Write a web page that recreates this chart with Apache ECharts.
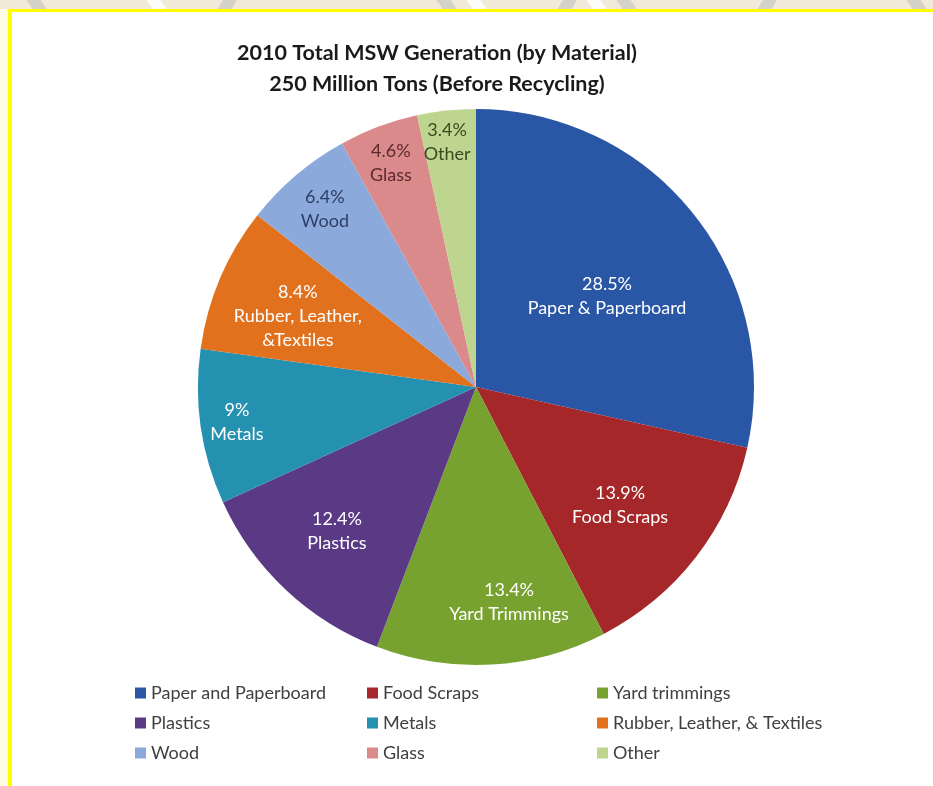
<!DOCTYPE html>
<html>
<head>
<meta charset="utf-8">
<script src="https://cdn.jsdelivr.net/npm/echarts@6/dist/echarts.min.js"></script>
<style>
  html, body { margin: 0; padding: 0; width: 933px; height: 786px; overflow: hidden; background: #fdfde6; }
  #strip { position: absolute; left: 0; top: 0; width: 933px; height: 9px; background: #f2ead8; overflow: hidden; }
  .mark { position: absolute; top: -4px; height: 18px; width: 14px; background: rgba(190,190,190,0.55); transform: skewX(35deg); }
  .mark.w { background: rgba(255,255,255,0.8); }
  #frame { position: absolute; left: 8px; top: 9px; right: 0; bottom: 0; border-top: 3px solid #ffff00; border-left: 4px solid #ffff00; background: #ffffff; }
  #chart { position: absolute; left: 0; top: 0; width: 933px; height: 786px; }
</style>
</head>
<body>
<div id="strip">
  <div class="mark" style="left:30px"></div>
  <div class="mark w" style="left:150px"></div>
  <div class="mark" style="left:220px;transform:skewX(-30deg)"></div>
  <div class="mark" style="left:440px"></div>
  <div class="mark w" style="left:470px"></div>
  <div class="mark" style="left:560px;transform:skewX(-30deg)"></div>
  <div class="mark w" style="left:590px"></div>
  <div class="mark" style="left:620px"></div>
  <div class="mark" style="left:760px;transform:skewX(-30deg)"></div>
  <div class="mark" style="left:910px"></div>
</div>
<div id="frame"></div>
<div id="chart"></div>
<script>
// Material categories, clockwise from 12 o'clock
const categories = [
  'Paper and Paperboard', 'Food Scraps', 'Yard trimmings',
  'Plastics', 'Metals', 'Rubber, Leather, & Textiles',
  'Wood', 'Glass', 'Other'
];
// Share of total generation, percent
const shares = [28.5, 13.9, 13.4, 12.4, 9, 8.4, 6.4, 4.6, 3.4];
// Text shown inside each slice under the percentage
const sliceNames = [
  'Paper & Paperboard', 'Food Scraps', 'Yard Trimmings',
  'Plastics', 'Metals', 'Rubber, Leather,\n&Textiles',
  'Wood', 'Glass', 'Other'
];
// Legend columns (read top to bottom)
const legendColumns = [
  ['Paper and Paperboard', 'Plastics', 'Wood'],
  ['Food Scraps', 'Metals', 'Glass'],
  ['Yard trimmings', 'Rubber, Leather, & Textiles', 'Other']
];
const titleLines = ['2010 Total MSW Generation (by Material)', '250 Million Tons (Before Recycling)'];

// Styling
const sliceColors = ['#2a56a6', '#a52729', '#77a230', '#5b3a85', '#2591b0', '#e2711e', '#8ba9db', '#da8a8a', '#bdd58f'];
const labelColors = ['#ffffff', '#ffffff', '#ffffff', '#ffffff', '#ffffff', '#ffffff', '#2e3f66', '#5c2a30', '#3b4a22'];
// Label placement: distance from the centre (fraction of radius) and a small
// angular nudge (degrees) away from the slice's middle direction
const labelRadius = [0.574, 0.670, 0.782, 0.720, 0.869, 0.690, 0.840, 0.862, 0.887];
const labelNudge = [3.9, 1.7, -5.5, 0.8, 0, -1.3, 0, -0.3, -0.6];

const FONT = 'Lato, "Open Sans", sans-serif';
const CX = 476, CY = 387, R = 278;

// Middle direction of each slice, degrees clockwise from 12 o'clock
const total = shares.reduce((a, b) => a + b, 0);
const midAngles = [];
shares.reduce((acc, v) => { midAngles.push((acc + v / 2) / total * 360); return acc + v; }, 0);

const chart = echarts.init(document.getElementById('chart'), null, { renderer: 'canvas' });

const pieData = categories.map((name, i) => ({
  name: name,
  value: shares[i],
  itemStyle: { color: sliceColors[i] },
  label: { color: labelColors[i] }
}));

const legends = legendColumns.map((col, c) => ({
  data: col,
  orient: 'vertical',
  left: [135, 367, 597][c],
  top: 684,
  padding: 0,
  itemWidth: 11,
  itemHeight: 11,
  itemGap: 12,
  icon: 'rect',
  selectedMode: false,
  textStyle: { fontFamily: FONT, fontSize: 18, lineHeight: 18, color: '#404040' }
}));

chart.setOption({
  backgroundColor: 'transparent',
  animation: false,
  graphic: [{
    type: 'text',
    x: 437,
    y: 38,
    style: {
      text: titleLines.join('\n'),
      fontFamily: FONT,
      fontWeight: 'bold',
      fontSize: 21.5,
      lineHeight: 31,
      fill: '#1a1a1a',
      textAlign: 'center',
      textVerticalAlign: 'top'
    }
  }],
  legend: legends,
  series: [{
    type: 'pie',
    center: [CX, CY],
    radius: [0, R],
    startAngle: 90,
    clockwise: true,
    avoidLabelOverlap: false,
    label: {
      show: true,
      position: 'inside',
      fontFamily: FONT,
      fontSize: 18,
      lineHeight: 24,
      align: 'center',
      formatter: p => p.value + '%\n' + sliceNames[p.dataIndex]
    },
    labelLine: { show: false },
    emphasis: { disabled: true },
    itemStyle: { borderWidth: 0 },
    labelLayout: function (params) {
      const i = params.dataIndex;
      const r = params.labelRect;
      const a = (midAngles[i] + labelNudge[i]) * Math.PI / 180;
      const tx = CX + labelRadius[i] * R * Math.sin(a);
      const ty = CY - labelRadius[i] * R * Math.cos(a);
      return { dx: tx - (r.x + r.width / 2), dy: ty - (r.y + r.height / 2) };
    },
    data: pieData
  }]
});
</script>
</body>
</html>
